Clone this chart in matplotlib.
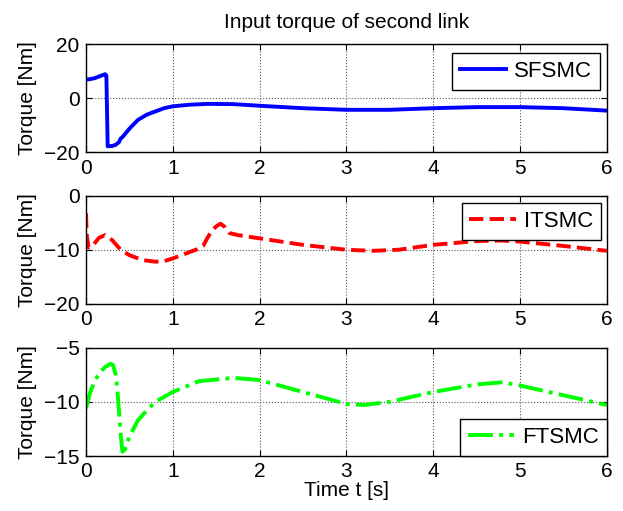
import numpy as np
import matplotlib
matplotlib.use("Agg")
import matplotlib.pyplot as plt

plt.rcParams['font.family'] = ['Liberation Sans', 'DejaVu Sans']

# SFSMC
t_sf = [0, 0.1, 0.22, 0.235, 0.25, 0.3, 0.34, 0.38, 0.4, 0.42, 0.5, 0.6, 0.7, 0.8, 0.9, 1.0, 1.2, 1.4,
        1.7, 2.0, 2.5, 3.0, 3.5, 4.0, 4.5, 5.0, 5.5, 6.0]
u_sf = [6.9, 7.5, 9.0, 8.5, -17.7, -17.6, -17.2, -16.2, -14.8, -14.3, -11.2, -7.9, -6.0, -4.8, -3.6, -2.9,
        -2.3, -2.0, -2.1, -2.7, -3.6, -4.2, -4.2, -3.6, -3.2, -3.2, -3.6, -4.5]

# ITSMC
t_it = [0, 0.01, 0.03, 0.08, 0.15, 0.22, 0.3, 0.4, 0.5, 0.65, 0.8, 0.9, 1.0, 1.1, 1.2, 1.3, 1.35, 1.4,
        1.45, 1.5, 1.55, 1.6, 1.65, 1.75, 2.0, 2.5, 3.0, 3.3, 3.6, 4.0, 4.5, 4.8, 5.0, 5.5, 6.0]
u_it = [-3.3, -7.5, -9.6, -9.2, -7.8, -7.3, -8.2, -10.0, -11.0, -11.9, -12.2, -12.1, -11.6, -11.0, -10.4,
        -9.8, -9.3, -7.8, -6.5, -5.7, -5.2, -5.8, -6.9, -7.3, -7.9, -9.1, -10.0, -10.2, -10.0, -9.1, -8.4,
        -8.3, -8.5, -9.3, -10.2]

# FTSMC
t_ft = [0, 0.05, 0.1, 0.15, 0.22, 0.28, 0.31, 0.34, 0.36, 0.38, 0.4, 0.42, 0.45, 0.5, 0.6, 0.7, 0.8,
        1.0, 1.3, 1.7, 2.0, 2.5, 3.0, 3.2, 3.5, 4.0, 4.5, 4.8, 5.0, 5.5, 6.0]
u_ft = [-10.6, -9.1, -8.1, -7.4, -6.8, -6.5, -6.6, -7.4, -8.8, -10.8, -13.0, -14.6, -14.4, -13.2, -11.7,
        -10.8, -10.0, -9.1, -8.1, -7.8, -8.0, -9.1, -10.2, -10.3, -10.0, -9.1, -8.4, -8.2, -8.5, -9.4, -10.3]

xticks = [0, 1, 2, 3, 4, 5, 6]

fig = plt.figure(figsize=(6.23, 5.11), dpi=100)
rects = [[0.138, 0.7016, 0.836, 0.2114],
         [0.138, 0.4051, 0.836, 0.2123],
         [0.138, 0.1076, 0.836, 0.2123]]

series = [
    (t_sf, u_sf, '#0000ff', '-', 'SFSMC', (-20, 20), [-20, 0, 20], 'upper right', (0.9866, 0.921)),
    (t_it, u_it, '#ff0000', '--', 'ITSMC', (-20, 0), [-20, -10, 0], 'upper right', (0.9885, 0.931)),
    (t_ft, u_ft, '#00ff00', '-.', 'FTSMC', (-15, -5), [-15, -10, -5], 'lower right', (1.0, 0.0)),
]

axes = []
for rect, (t, u, c, ls, lab, ylim, yt, loc, anchor) in zip(rects, series):
    ax = fig.add_axes(rect)
    ax.plot(t, u, color=c, linestyle=ls, linewidth=2.8, label=lab)
    ax.set_xlim(0, 6)
    ax.set_ylim(*ylim)
    ax.set_xticks(xticks)
    ax.set_yticks(yt)
    ax.grid(True, linestyle=':', color='#555555', linewidth=0.8)
    ax.tick_params(direction='in', top=True, right=True, labelsize=15, length=4, pad=4.5)
    for s in ax.spines.values():
        s.set_linewidth(1.0)
    ax.set_ylabel('Torque [Nm]', fontsize=15, labelpad=5)
    leg = ax.legend(loc=loc, bbox_to_anchor=anchor, fontsize=16, fancybox=False, framealpha=1,
                    edgecolor='black', handlelength=2.1, handletextpad=0.35, borderpad=0.35,
                    borderaxespad=0.0)
    leg.get_frame().set_linewidth(1.0)
    axes.append(ax)

axes[0].set_title('Input torque of second link', fontsize=15, pad=12)
axes[2].set_xlabel('Time t [s]', fontsize=15, labelpad=0)
fig.align_ylabels(axes)

fig.savefig('out.png', dpi=100)
